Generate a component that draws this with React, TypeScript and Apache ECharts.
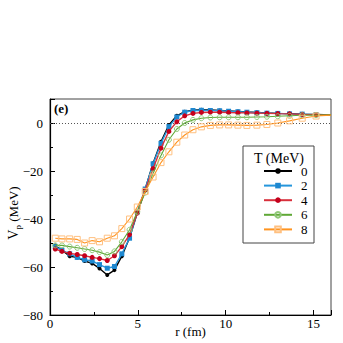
import React, { useEffect, useRef } from "react";
import * as echarts from "echarts";

const rValues = [0.30, 0.68, 1.12, 1.55, 1.97, 2.40, 2.82, 3.26, 3.67, 4.09, 4.53, 4.97, 5.42, 5.87, 6.32, 6.77, 7.22, 7.67, 8.14, 8.62, 9.13, 9.66, 10.17, 10.70, 11.21, 11.78, 12.35, 12.97, 13.64, 14.36, 15.15, 16.0];

const vT0 = [-51, -53, -55.5, -56, -57.5, -58.5, -60.6, -63.3, -61.3, -55.5, -47.8, -37.5, -27.5, -16.8, -7.8, -0.8, 3.0, 4.7, 5.3, 5.5, 5.4, 5.2, 5.0, 4.8, 4.6, 4.4, 4.2, 4.0, 3.9, 3.7, 3.6, 3.4];
const vT2 = [-51.5, -53, -54.5, -56, -57, -57.5, -59, -60.5, -59.8, -54.5, -48, -37, -27.5, -17, -8.5, -1.5, 2.5, 4.5, 5.2, 5.3, 5.2, 5.1, 4.9, 4.7, 4.5, 4.3, 4.1, 4.0, 3.8, 3.7, 3.5, 3.4];
const vT4 = [-52.5, -53.5, -54.3, -54.8, -55.3, -56, -56.5, -57.3, -55.3, -51.5, -46.5, -37.5, -28, -19, -10.5, -3.5, 0.5, 3.0, 4.0, 4.4, 4.5, 4.5, 4.4, 4.3, 4.2, 4.1, 4.0, 3.9, 3.8, 3.6, 3.5, 3.4];
const vT6 = [-51, -51, -51.5, -52, -52.5, -53, -53.8, -55, -53.5, -49.5, -44.5, -37, -29, -21, -13.5, -7, -2.5, 0, 1.3, 2.0, 2.3, 2.4, 2.4, 2.4, 2.4, 2.5, 2.6, 2.8, 3.0, 3.2, 3.3, 3.4];
const vT8 = [-48, -48.3, -48.3, -48.5, -50, -49, -49.5, -48, -47, -44, -40, -35, -28.5, -22.5, -16.5, -12, -8, -5, -2.8, -1.6, -1.0, -0.8, -0.8, -0.9, -1.0, -0.9, -0.6, 0, 0.9, 2.0, 2.9, 3.3];

const seriesNames = ["0", "2", "4", "6", "8"];
const xTicks = [0, 5, 10, 15];
const yTicks = [-80, -60, -40, -20, 0];

const FONT = "Liberation Serif, Times New Roman, serif";

function mk(vals: number[]) {
  return rValues.map((r, i) =>
    i === rValues.length - 1 ? { value: [r, vals[i]], symbol: "none" } : { value: [r, vals[i]] }
  );
}

export default function App() {
  const ref = useRef<HTMLDivElement>(null);
  useEffect(() => {
    if (!ref.current) return;
    const chart = echarts.init(ref.current, null, { renderer: "svg" });
    const styles = [
      { line: "#000000", marker: "#000000", symbol: "circle", size: 4, filled: true, width: 1.4 },
      { line: "#2596dc", marker: "#1e88d0", symbol: "rect", size: 5, filled: true, width: 1.4 },
      { line: "#d8303c", marker: "#c4001c", symbol: "circle", size: 5, filled: true, width: 1.4 },
      { line: "#5fa836", marker: "#90c878", symbol: "circle", size: 5, filled: false, width: 1.1 },
      { line: "#ff9420", marker: "#ffc080", symbol: "rect", size: 6, filled: false, width: 1.1 },
    ];
    const datas = [vT0, vT2, vT4, vT6, vT8];
    const series: any[] = datas.map((d, i) => ({
      name: seriesNames[i],
      type: "line",
      data: mk(d),
      symbol: styles[i].symbol,
      symbolSize: styles[i].size,
      showAllSymbol: true,
      lineStyle: { color: styles[i].line, width: styles[i].width },
      itemStyle: styles[i].filled
        ? { color: styles[i].marker, borderColor: styles[i].marker, borderWidth: 0 }
        : { color: "rgba(255,255,255,0)", borderColor: styles[i].marker, borderWidth: 1 },
      z: 2 + i,
    }));
    series[0].markLine = {
      silent: true,
      symbol: "none",
      label: { show: false },
      lineStyle: { color: "#555", type: [1, 2], width: 1 },
      data: [{ yAxis: 0 }],
      z: 1,
    };
    chart.setOption({
      animation: false,
      backgroundColor: "#fff",
      grid: { left: 50, right: 12, top: 99, bottom: 28, outerBoundsMode: "none", containLabel: false, show: true, borderColor: "#444", borderWidth: 1, backgroundColor: "transparent" },
      xAxis: {
        type: "value",
        min: 0,
        max: 16,
        interval: 5,
        name: "r (fm)",
        nameLocation: "middle",
        nameGap: 10,
        nameMoveOverlap: false,
        nameTextStyle: { fontFamily: FONT, fontSize: 13, color: "#000" },
        axisLine: { show: true, onZero: false, lineStyle: { color: "#000", width: 1.2 } },
        axisTick: { show: true, inside: true, length: 5, lineStyle: { color: "#000" } },
        minorTick: { show: true, splitNumber: 2, length: 3, lineStyle: { color: "#000" } },
        splitLine: { show: false },
        axisLabel: {
          fontFamily: FONT, fontSize: 13, color: "#000", margin: 2, showMaxLabel: false,
          formatter: (v: number) => (xTicks.includes(v) ? String(v) : ""),
        },
      },
      yAxis: {
        type: "value",
        min: -80,
        max: 10,
        interval: 20,
        name: "{v|V}{s|p}{n| (MeV)}",
        nameLocation: "middle",
        nameRotate: 90,
        nameGap: 28,
        nameMoveOverlap: false,
        nameTextStyle: {
          fontFamily: FONT, fontSize: 13, color: "#000", padding: [0, 12, 0, 0],
          rich: {
            v: { fontFamily: FONT, fontSize: 14, color: "#000", lineHeight: 18 },
            s: { fontFamily: FONT, fontSize: 9, color: "#000", lineHeight: 18, verticalAlign: "bottom" },
            n: { fontFamily: FONT, fontSize: 13, color: "#000", lineHeight: 18 },
          },
        },
        axisLine: { show: true, onZero: false, lineStyle: { color: "#000", width: 1.2 } },
        axisTick: { show: true, inside: true, length: 5, lineStyle: { color: "#000" } },
        minorTick: { show: true, splitNumber: 2, length: 3, lineStyle: { color: "#000" } },
        splitLine: { show: false },
        axisLabel: {
          fontFamily: FONT, fontSize: 13, color: "#000", margin: 7, showMaxLabel: false,
          formatter: (v: number) => (yTicks.includes(v) ? (v < 0 ? "\u2212" + Math.abs(v) : String(v)) : ""),
        },
      },
      legend: {
        show: true,
        orient: "vertical",
        left: 263,
        top: 164,
        padding: 0,
        z: 20,
        itemWidth: 28,
        itemHeight: 7,
        itemGap: 0.6,
        data: seriesNames,
        textStyle: { fontFamily: FONT, fontSize: 13, color: "#000", lineHeight: 14, padding: [0, 0, 0, 4] },
      },
      graphic: [
        { type: "rect", shape: { x: 243, y: 146, width: 71, height: 97 }, style: { fill: "#fff", stroke: "#444", lineWidth: 1 }, z: 10 },
        { type: "text", x: 279, y: 158, style: { text: "T (MeV)", fontFamily: FONT, fontSize: 14, fill: "#000", align: "center", verticalAlign: "middle" }, z: 11 },
        { type: "text", x: 54, y: 108, style: { text: "(e)", fontFamily: FONT, fontSize: 13, fontWeight: "bold", fill: "#000", align: "left", verticalAlign: "middle" }, z: 11 },
      ],
      series,
    });
    return () => chart.dispose();
  }, []);
  return <div ref={ref} style={{ position: "absolute", left: 0, top: 0, width: 343, height: 343 }} />;
}
